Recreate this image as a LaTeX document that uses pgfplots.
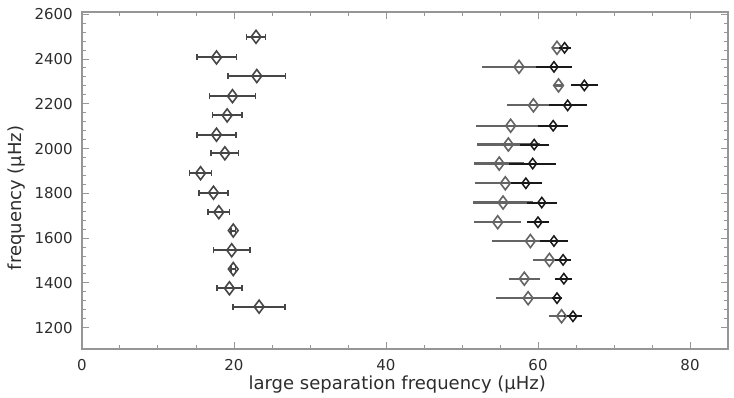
\documentclass[border=0pt]{standalone}
\usepackage{fontspec}
\setmainfont{DejaVu Sans}
\usepackage{pgfplots}
\pgfplotsset{compat=1.18}
\usepackage{pgfplotstable}

\definecolor{lgrp}{RGB}{70,70,70}
\definecolor{rgray}{RGB}{100,100,100}
\definecolor{rdark}{RGB}{25,25,25}
\definecolor{axgray}{RGB}{150,150,150}
\definecolor{txt}{RGB}{45,45,45}

\pgfplotstableread{
x y ex
22.9 2499 1.25
17.7 2407 2.6
23.0 2324 3.8
19.8 2234 3.05
19.1 2148 1.95
17.7 2062 2.55
18.8 1979 1.8
15.6 1890 1.45
17.3 1803 1.9
18.0 1716 1.4
19.9 1634 0.3
19.7 1546 2.4
19.9 1462 0.3
19.4 1376 1.65
23.3 1294 3.4
}\leftdata

\pgfplotstableread{
x y ex
62.5 2450 0.7
57.5 2365 4.9
62.7 2282 0.4
59.4 2193 3.5
56.4 2102 4.5
56.1 2018 4.1
54.9 1933 3.3
55.7 1845 4.0
55.4 1759 3.9
54.7 1671 3.1
59.0 1587 5.0
61.5 1503 2.1
58.2 1419 2.0
58.7 1332 4.2
63.1 1251 1.7
}\rightgray

\pgfplotstableread{
x y ex
63.5 2450 0.8
62.1 2365 2.4
66.1 2282 1.8
63.9 2193 2.5
62.0 2102 2.0
59.5 2018 1.9
59.3 1933 3.1
58.4 1845 2.1
60.5 1759 2.0
60.0 1671 1.4
62.1 1587 1.8
63.3 1503 1.1
63.4 1419 1.1
62.5 1332 0.7
64.6 1251 1.2
}\rightdark

\begin{document}
\begin{tikzpicture}
\path[use as bounding box] (-82bp,-49bp) rectangle (652bp,349bp);
\begin{axis}[
  scale only axis,
  width=646bp, height=337bp,
  at={(0,0)}, anchor=south west,
  xmin=0, xmax=85, ymin=1105, ymax=2610,
  xtick={0,20,40,60,80},
  ytick={1200,1400,1600,1800,2000,2200,2400,2600},
  minor x tick num=3,
  minor y tick num=4,
  tick align=inside,
  major tick length=7bp,
  minor tick length=4bp,
  axis line style={draw=axgray, line width=1.2bp},
  every tick/.style={draw=axgray, line width=1bp},
  /pgf/number format/assume math mode=true,
  /pgf/number format/1000 sep={},
  tick label style={font=\fontsize{15bp}{17bp}\selectfont, text=txt},
  yticklabel style={inner sep=0pt, anchor=east, xshift=-9bp},
  xticklabel style={inner sep=0pt, anchor=north, yshift=-10bp},
  xlabel={large separation frequency (μHz)},
  ylabel={frequency (μHz)},
  label style={font=\fontsize{18bp}{20bp}\selectfont, text=txt},
  xlabel style={at={(axis description cs:0.488,-0.106)}, anchor=center, inner sep=0pt},
  ylabel style={at={(axis description cs:-0.102,0.448)}, anchor=center, inner sep=0pt},
]
\addplot[only marks, mark=diamond, mark size=6.5bp,
  mark options={draw=lgrp, fill=none, line width=1.6bp},
  error bars/.cd, x dir=both, x explicit,
  error bar style={line width=2bp, draw=lgrp},
  error mark=|, error mark options={draw=lgrp, mark size=3bp, line width=1.5bp}]
  table[x=x, y=y, x error=ex]{\leftdata};
\addplot[only marks, mark=diamond, mark size=6.5bp,
  mark options={draw=rgray, fill=none, line width=1.6bp},
  error bars/.cd, x dir=both, x explicit,
  error bar style={line width=2.2bp, draw=rgray},
  error mark=none]
  table[x=x, y=y, x error=ex]{\rightgray};
\addplot[only marks, mark=diamond, mark size=5.2bp,
  mark options={draw=rdark, fill=none, line width=1.5bp},
  error bars/.cd, x dir=both, x explicit,
  error bar style={line width=2bp, draw=rdark},
  error mark=none]
  table[x=x, y=y, x error=ex]{\rightdark};
\end{axis}
\end{tikzpicture}
\end{document}
